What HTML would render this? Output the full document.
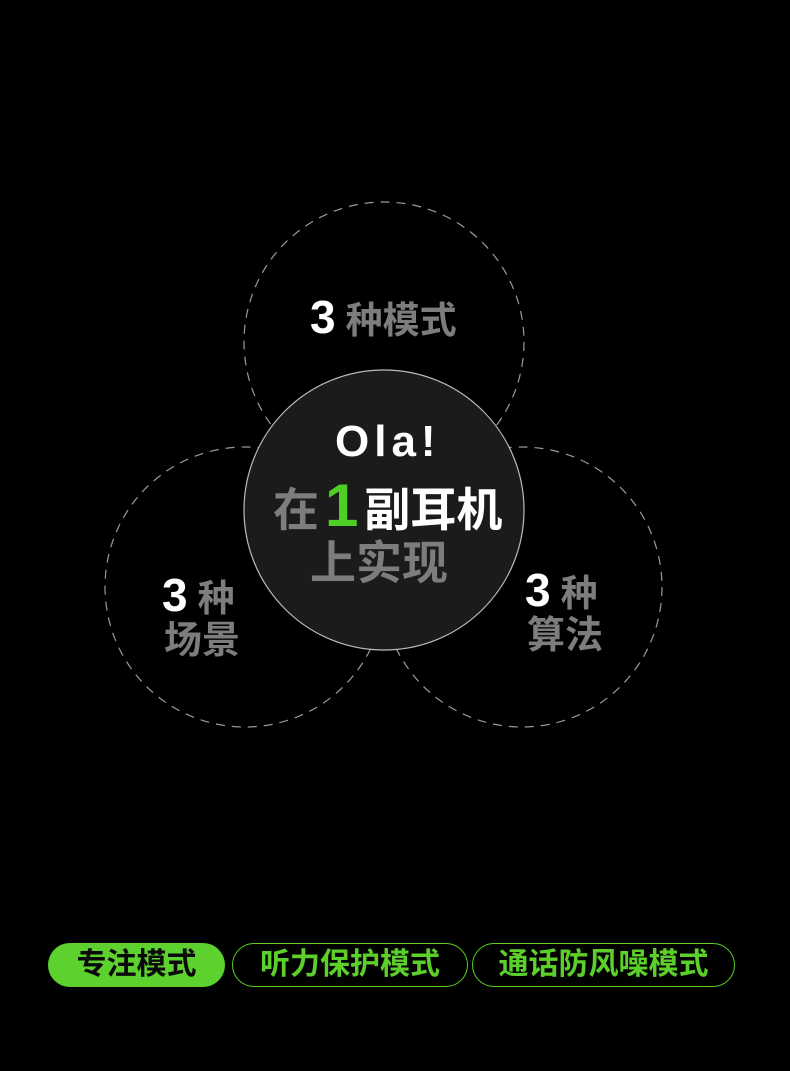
<!DOCTYPE html>
<html><head><meta charset="utf-8"><style>
body{margin:0;width:790px;height:1071px;background:#000;position:relative;overflow:hidden;font-family:"Liberation Sans","Noto Sans CJK SC",sans-serif;font-weight:bold}
.t{position:absolute;white-space:nowrap;line-height:1}
.w{color:#fff}.g{color:#7d7d7f}.gr{color:#4fce25}
.btn{position:absolute;top:943px;height:44px;border-radius:22px;box-sizing:border-box;font-size:30px;line-height:42px;text-align:center;color:#5ccf2a;border:1.5px solid #5ccf2a}
</style></head><body>
<svg width="790" height="1071" style="position:absolute;left:0;top:0">
<g fill="none" stroke="#9a9a9a" stroke-width="1.2" stroke-dasharray="9 7">
<circle cx="384" cy="342" r="140"/>
<circle cx="245" cy="587" r="140"/>
<circle cx="522" cy="587" r="140"/>
</g>
<circle cx="384" cy="510" r="140" fill="#1b1b1b" stroke="#bbbbbb" stroke-width="1.2"/>
</svg>
<div class="t" style="left:310px;top:294px"><span class="w" style="font-size:46px">3</span><span class="g" style="font-size:37px;margin-left:10px">种模式</span></div>
<div class="t" style="left:162px;top:572px"><span class="w" style="font-size:46px">3</span><span class="g" style="font-size:37px;margin-left:10px">种</span></div>
<div class="t g" style="left:164px;top:622px;font-size:38px">场景</div>
<div class="t" style="left:525px;top:567px"><span class="w" style="font-size:46px">3</span><span class="g" style="font-size:37px;margin-left:10px">种</span></div>
<div class="t g" style="left:527px;top:617px;font-size:38px">算法</div>
<div class="t w" style="left:335px;top:420px;font-size:44px;letter-spacing:5px">Ola!</div>
<div class="t" style="left:273px;top:476px;font-size:46px"><span class="g">在</span><span class="gr" style="font-size:60px;margin:0 6px">1</span><span class="w">副耳机</span></div>
<div class="t g" style="left:310px;top:540px;font-size:46px">上实现</div>
<div class="btn" style="left:48px;width:177px;background:#5dd22e;color:#0a0a0a;border:none;line-height:44px">专注模式</div>
<div class="btn" style="left:232px;width:236px">听力保护模式</div>
<div class="btn" style="left:472px;width:263px">通话防风噪模式</div>
</body></html>
